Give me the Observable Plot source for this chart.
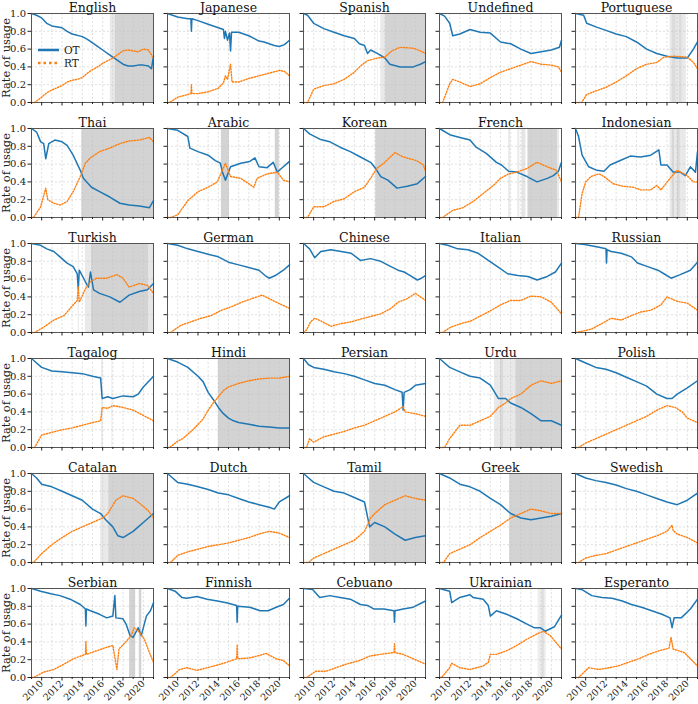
<!DOCTYPE html>
<html><head><meta charset="utf-8">
<script src="https://cdn.jsdelivr.net/npm/d3@7"></script>
<script src="https://cdn.jsdelivr.net/npm/@observablehq/plot@0.6"></script>
<style>
body{margin:0;background:#fff;}
#fig{position:relative;width:698px;height:704px;font-family:"DejaVu Serif",serif;overflow:hidden;}
#fig svg.p{position:absolute;}
</style></head><body><div id="fig"></div><script>
const languages = ["English","Japanese","Spanish","Undefined","Portuguese",
  "Thai","Arabic","Korean","French","Indonesian",
  "Turkish","German","Chinese","Italian","Russian",
  "Tagalog","Hindi","Persian","Urdu","Polish",
  "Catalan","Dutch","Tamil","Greek","Swedish",
  "Serbian","Finnish","Cebuano","Ukrainian","Esperanto"];
const yearTicks = [2009,2010,2011,2012,2013,2014,2015,2016,2017,2018,2019,2020,2021];
const labeledYears = [2010,2012,2014,2016,2018,2020];
const rateTicks = [0,0.2,0.4,0.6,0.8,1.0];

// [year, rate] readings
const OT_English = [[2009,1.0],[2009.5,0.98],[2010,0.95],[2010.5,0.89],[2011,0.86],[2012,0.84],[2012.5,0.80],[2013,0.77],[2014,0.74],[2014.5,0.71],[2015,0.67],[2015.5,0.63],[2016,0.59],[2016.5,0.55],[2017,0.51],[2017.5,0.47],[2018,0.43],[2018.5,0.41],[2019,0.41],[2019.5,0.42],[2020,0.42],[2020.5,0.41],[2020.8,0.38],[2021,0.52]];
const RT_English = [[2009,0],[2009.3,0],[2010,0.06],[2010.5,0.11],[2011,0.14],[2012,0.19],[2012.5,0.23],[2013,0.25],[2013.5,0.26],[2014,0.28],[2014.5,0.33],[2015,0.37],[2015.5,0.40],[2016,0.44],[2016.5,0.47],[2017,0.50],[2017.5,0.54],[2018,0.58],[2018.5,0.59],[2019,0.58],[2019.5,0.57],[2020,0.60],[2020.5,0.59],[2021,0.50]];
const OT_Japanese = [[2009,1.0],[2009.5,0.98],[2010,0.96],[2011,0.94],[2011.3,0.94],[2011.35,0.80],[2011.4,0.94],[2012,0.92],[2013,0.88],[2014,0.84],[2014.5,0.82],[2014.6,0.72],[2014.7,0.80],[2014.9,0.70],[2015.1,0.78],[2015.2,0.58],[2015.3,0.79],[2016,0.79],[2017,0.75],[2017.5,0.72],[2018,0.69],[2018.5,0.68],[2019,0.66],[2019.5,0.64],[2020,0.63],[2020.5,0.65],[2021,0.70]];
const RT_Japanese = [[2009,0],[2009.2,0],[2010,0.06],[2011,0.09],[2011.3,0.10],[2011.35,0.20],[2011.4,0.10],[2012,0.10],[2013,0.12],[2014,0.16],[2014.5,0.22],[2014.7,0.30],[2014.9,0.26],[2015.2,0.43],[2015.35,0.23],[2016,0.23],[2017,0.27],[2018,0.30],[2019,0.33],[2020,0.36],[2020.5,0.35],[2021,0.30]];
const OT_Spanish = [[2009,1.0],[2009.4,0.98],[2010,0.89],[2011,0.83],[2012,0.79],[2013,0.75],[2014,0.72],[2014.5,0.66],[2015,0.64],[2015.3,0.55],[2015.6,0.59],[2016.3,0.55],[2017,0.50],[2017.5,0.43],[2018.5,0.40],[2019.8,0.40],[2020.5,0.43],[2021,0.46]];
const RT_Spanish = [[2009,0],[2009.4,0],[2010,0.15],[2011,0.19],[2012,0.21],[2013,0.26],[2014,0.34],[2014.6,0.41],[2015.3,0.47],[2016.3,0.50],[2017,0.51],[2017.7,0.58],[2018.5,0.62],[2019.8,0.61],[2020.5,0.58],[2021,0.55]];
const OT_Undefined = [[2009,1.0],[2009.5,0.97],[2010,0.89],[2010.3,0.75],[2011,0.77],[2012,0.82],[2013,0.79],[2014,0.78],[2015,0.68],[2016,0.66],[2017,0.60],[2018,0.55],[2019,0.57],[2020,0.59],[2020.8,0.62],[2021,0.70]];
const RT_Undefined = [[2009,0],[2009.3,0],[2010,0.21],[2010.3,0.26],[2011,0.23],[2012,0.18],[2013,0.21],[2014,0.28],[2015,0.34],[2016,0.38],[2017,0.42],[2018,0.46],[2019,0.43],[2020,0.42],[2020.7,0.40],[2021,0.34]];
const OT_Portuguese = [[2009,1.0],[2009.8,0.98],[2010.1,0.89],[2011,0.85],[2012,0.81],[2013,0.77],[2014,0.74],[2015,0.68],[2016,0.60],[2017,0.55],[2018,0.52],[2019,0.50],[2020,0.50],[2020.6,0.60],[2021,0.68]];
const RT_Portuguese = [[2009,0],[2009.6,0],[2010.1,0.09],[2011,0.13],[2012,0.17],[2013,0.23],[2014,0.30],[2015,0.38],[2016,0.43],[2017,0.45],[2017.7,0.51],[2018.7,0.52],[2020,0.51],[2020.6,0.45],[2021,0.38]];
const OT_Thai = [[2009,1.0],[2009.5,0.96],[2009.9,0.85],[2010.2,0.83],[2010.4,0.66],[2010.7,0.83],[2011.3,0.87],[2012,0.85],[2012.5,0.81],[2013.1,0.70],[2013.8,0.53],[2014.1,0.44],[2014.9,0.34],[2015.7,0.29],[2016.7,0.23],[2017.7,0.16],[2018.6,0.14],[2019.6,0.13],[2020.6,0.11],[2021,0.19]];
const RT_Thai = [[2009,0],[2009.2,0],[2009.9,0.12],[2010.4,0.33],[2010.6,0.20],[2011.2,0.16],[2011.8,0.14],[2012.5,0.18],[2013.1,0.29],[2013.8,0.46],[2014.3,0.61],[2014.8,0.67],[2015.7,0.74],[2016.7,0.78],[2017.7,0.83],[2018.6,0.86],[2019.6,0.87],[2020.6,0.90],[2021,0.85]];
const OT_Arabic = [[2009,1.0],[2010,0.98],[2011,0.91],[2011.2,0.78],[2012,0.74],[2013,0.70],[2013.7,0.64],[2014.2,0.61],[2014.4,0.51],[2014.7,0.42],[2015.2,0.57],[2016.2,0.61],[2017.1,0.63],[2017.6,0.67],[2018,0.57],[2018.8,0.56],[2019.4,0.62],[2019.8,0.51],[2020.2,0.55],[2021,0.63]];
const RT_Arabic = [[2009,0],[2009.3,0],[2010,0.03],[2011,0.19],[2012,0.29],[2013,0.34],[2013.9,0.40],[2014.4,0.53],[2014.7,0.61],[2015.2,0.46],[2016.2,0.44],[2017.5,0.34],[2017.8,0.44],[2018.8,0.49],[2019.8,0.51],[2020.4,0.42],[2021,0.40]];
const OT_Korean = [[2009,1.0],[2009.6,0.94],[2010.6,0.88],[2011.6,0.85],[2012.6,0.79],[2013.6,0.74],[2014.6,0.68],[2015.6,0.62],[2016.1,0.55],[2016.6,0.46],[2017.3,0.42],[2018.2,0.33],[2019.2,0.35],[2020.2,0.38],[2021,0.46]];
const RT_Korean = [[2009,0],[2009.4,0],[2010,0.12],[2011,0.12],[2012,0.18],[2013,0.21],[2014,0.29],[2015,0.34],[2015.7,0.46],[2016.2,0.55],[2016.9,0.61],[2018,0.73],[2018.8,0.68],[2020.1,0.64],[2020.8,0.59],[2021,0.52]];
const OT_French = [[2009,1.0],[2010,0.93],[2011,0.90],[2012,0.87],[2012.6,0.79],[2013.6,0.72],[2014.6,0.62],[2015.1,0.59],[2015.8,0.52],[2016.6,0.51],[2017.6,0.46],[2018.6,0.40],[2019.6,0.44],[2020.2,0.47],[2020.7,0.52],[2021,0.62]];
const RT_French = [[2009,0],[2009.3,0],[2010.3,0.08],[2011.3,0.11],[2012.3,0.18],[2013.3,0.27],[2014.3,0.36],[2015,0.44],[2015.8,0.49],[2016.6,0.51],[2017.6,0.55],[2018.6,0.62],[2019.6,0.57],[2020.5,0.53],[2021,0.40]];
const OT_Indonesian = [[2009,1.0],[2009.3,0.91],[2009.65,0.70],[2010.3,0.57],[2011.1,0.53],[2011.8,0.52],[2012.4,0.59],[2013.4,0.64],[2014.4,0.69],[2015.4,0.68],[2016.4,0.70],[2017.2,0.76],[2017.4,0.59],[2018,0.59],[2018.6,0.51],[2019.3,0.51],[2019.8,0.47],[2020.3,0.57],[2020.8,0.51],[2021,0.74]];
const RT_Indonesian = [[2009,0],[2009.3,0],[2009.65,0.27],[2010,0.40],[2010.5,0.46],[2011.3,0.49],[2011.8,0.46],[2012.7,0.38],[2013.7,0.35],[2014.7,0.34],[2015.4,0.31],[2016.4,0.31],[2017,0.36],[2017.4,0.31],[2018.3,0.44],[2019,0.53],[2020,0.47],[2020.6,0.40],[2021,0.40]];
const OT_Turkish = [[2009,1.0],[2009.9,0.98],[2010.5,0.94],[2011.2,0.91],[2011.8,0.85],[2012.5,0.78],[2013.1,0.74],[2013.5,0.66],[2013.6,0.49],[2013.7,0.70],[2014.3,0.57],[2014.6,0.51],[2014.8,0.68],[2015.1,0.48],[2015.7,0.44],[2016.7,0.40],[2017.7,0.34],[2018.6,0.42],[2019.6,0.46],[2020.4,0.48],[2021,0.55]];
const RT_Turkish = [[2009,0],[2009.3,0],[2010.2,0.06],[2011.2,0.14],[2012.2,0.19],[2013.1,0.31],[2013.5,0.36],[2013.6,0.51],[2013.7,0.34],[2014.3,0.49],[2014.8,0.57],[2015.4,0.61],[2016.4,0.61],[2017.4,0.65],[2018,0.61],[2018.6,0.51],[2019.6,0.55],[2020.4,0.53],[2021,0.44]];
const OT_German = [[2009,1.0],[2010,0.98],[2011,0.94],[2012,0.91],[2013,0.88],[2014,0.85],[2015,0.79],[2016,0.76],[2017,0.73],[2018,0.70],[2018.6,0.64],[2019,0.61],[2019.6,0.64],[2020.4,0.70],[2021,0.76]];
const RT_German = [[2009,0],[2009.3,0],[2010.3,0.08],[2011.3,0.12],[2012.3,0.16],[2013.3,0.19],[2014.3,0.25],[2015.3,0.29],[2016.3,0.34],[2017.3,0.38],[2018.3,0.42],[2019,0.38],[2019.9,0.33],[2021,0.27]];
const OT_Chinese = [[2009,1.0],[2009.6,0.94],[2010.1,0.84],[2010.7,0.91],[2011.7,0.93],[2012.7,0.91],[2013.7,0.89],[2014.6,0.81],[2015.6,0.83],[2016.6,0.80],[2017.6,0.74],[2018.3,0.70],[2018.9,0.68],[2019.5,0.64],[2020.2,0.59],[2020.6,0.61],[2021,0.64]];
const RT_Chinese = [[2009,0],[2009.3,0.03],[2009.7,0.12],[2010.1,0.16],[2010.7,0.13],[2011.7,0.07],[2012.7,0.10],[2013.7,0.12],[2014.6,0.15],[2015.6,0.18],[2016.6,0.21],[2017.6,0.27],[2018.3,0.34],[2019.2,0.38],[2020,0.44],[2020.5,0.40],[2021,0.36]];
const OT_Italian = [[2009,1.0],[2009.8,0.98],[2010.8,0.94],[2011.8,0.93],[2012.8,0.89],[2013.8,0.81],[2014.7,0.74],[2015.7,0.66],[2016.7,0.64],[2017.7,0.63],[2018.6,0.59],[2019.6,0.63],[2020.4,0.68],[2021,0.78]];
const RT_Italian = [[2009,0],[2009.3,0],[2010.1,0.06],[2011.1,0.10],[2012.1,0.13],[2013.1,0.19],[2014.1,0.25],[2015,0.31],[2016,0.36],[2017,0.36],[2018,0.41],[2019,0.40],[2020,0.34],[2021,0.21]];
const OT_Russian = [[2009,1.0],[2009.9,0.99],[2011.2,0.96],[2012,0.94],[2012.05,0.78],[2012.1,0.93],[2012.5,0.91],[2013.5,0.89],[2014.5,0.85],[2015.1,0.78],[2016.1,0.74],[2017.1,0.70],[2017.7,0.66],[2018.4,0.61],[2019.3,0.65],[2020.3,0.70],[2021,0.79]];
const RT_Russian = [[2009,0],[2009.5,0.01],[2010.6,0.04],[2011.9,0.12],[2012.5,0.16],[2013.5,0.14],[2014.5,0.19],[2015.4,0.23],[2016.4,0.25],[2017.4,0.31],[2018,0.40],[2019,0.35],[2020,0.33],[2021,0.25]];
const OT_Tagalog = [[2009,1.0],[2009.5,0.95],[2010,0.90],[2011,0.86],[2012,0.85],[2013,0.84],[2014,0.83],[2015,0.80],[2015.8,0.78],[2015.95,0.55],[2016.5,0.57],[2017,0.55],[2018,0.58],[2019,0.57],[2019.5,0.60],[2020,0.68],[2021,0.80]];
const RT_Tagalog = [[2009,0],[2009.3,0],[2010,0.14],[2011,0.17],[2012,0.20],[2013,0.22],[2014,0.25],[2015,0.28],[2015.8,0.30],[2015.95,0.45],[2016.5,0.44],[2017,0.47],[2018,0.45],[2019,0.42],[2020,0.36],[2021,0.30]];
const OT_Hindi = [[2009,1.0],[2010,0.96],[2011,0.90],[2012,0.80],[2012.5,0.74],[2013,0.62],[2013.5,0.54],[2014,0.45],[2014.5,0.38],[2015,0.33],[2015.5,0.30],[2016,0.28],[2017,0.26],[2018,0.24],[2019,0.23],[2020,0.22],[2021,0.22]];
const RT_Hindi = [[2009,0],[2009.2,0],[2010,0.07],[2010.5,0.10],[2011,0.15],[2011.5,0.20],[2012,0.26],[2012.5,0.32],[2013,0.42],[2013.5,0.50],[2014,0.57],[2014.5,0.64],[2015,0.68],[2016,0.72],[2017,0.75],[2018,0.77],[2019,0.78],[2020,0.78],[2021,0.80]];
const OT_Persian = [[2009,1.0],[2009.5,0.93],[2010,0.90],[2011,0.88],[2012,0.85],[2013,0.83],[2014,0.80],[2015,0.76],[2016,0.72],[2017,0.70],[2018,0.65],[2018.7,0.62],[2018.8,0.42],[2018.9,0.62],[2019.5,0.65],[2020,0.70],[2021,0.72]];
const RT_Persian = [[2009,0],[2009.3,0],[2009.6,0.10],[2010,0.06],[2011,0.12],[2012,0.15],[2013,0.18],[2014,0.22],[2015,0.25],[2016,0.30],[2017,0.35],[2018,0.40],[2018.8,0.46],[2019,0.40],[2020,0.38],[2021,0.35]];
const OT_Urdu = [[2009,1.0],[2009.5,0.95],[2010,0.90],[2011,0.85],[2012,0.80],[2013,0.78],[2014,0.70],[2014.8,0.55],[2015.5,0.55],[2016,0.50],[2017,0.45],[2018,0.38],[2019,0.30],[2020,0.30],[2021,0.25]];
const RT_Urdu = [[2009,0],[2009.5,0],[2010,0.10],[2011,0.25],[2012,0.25],[2013,0.30],[2014,0.35],[2014.8,0.45],[2015.5,0.50],[2016,0.55],[2017,0.60],[2018,0.70],[2019,0.75],[2020,0.72],[2021,0.75]];
const OT_Polish = [[2009,1.0],[2010,0.95],[2011,0.90],[2012,0.88],[2013,0.84],[2014,0.79],[2015,0.74],[2016,0.69],[2017,0.60],[2018,0.55],[2018.5,0.55],[2019,0.60],[2020,0.67],[2021,0.75]];
const RT_Polish = [[2009,0],[2009.3,0],[2010,0.05],[2011,0.10],[2012,0.15],[2013,0.20],[2014,0.25],[2015,0.30],[2016,0.35],[2017,0.42],[2018,0.47],[2018.8,0.45],[2019.5,0.40],[2020,0.33],[2021,0.28]];
const OT_Catalan = [[2009,1.0],[2009.5,0.95],[2010,0.88],[2011,0.85],[2012,0.80],[2013,0.75],[2014,0.70],[2015,0.60],[2015.8,0.55],[2016.3,0.48],[2017,0.40],[2017.5,0.30],[2018,0.28],[2019,0.35],[2019.5,0.40],[2020,0.45],[2021,0.55]];
const RT_Catalan = [[2009,0],[2009.2,0],[2010,0.10],[2011,0.20],[2012,0.28],[2013,0.35],[2014,0.40],[2015,0.45],[2016,0.50],[2016.5,0.55],[2017.3,0.70],[2018,0.75],[2019,0.72],[2019.8,0.65],[2020.5,0.58],[2021,0.50]];
const OT_Dutch = [[2009,1.0],[2009.5,0.95],[2010,0.90],[2011,0.88],[2012,0.85],[2013,0.82],[2014,0.78],[2015,0.76],[2016,0.72],[2017,0.68],[2018,0.65],[2019,0.62],[2019.5,0.60],[2020,0.68],[2021,0.75]];
const RT_Dutch = [[2009,0],[2009.3,0],[2010,0.08],[2011,0.12],[2012,0.15],[2013,0.18],[2014,0.20],[2015,0.22],[2016,0.25],[2017,0.28],[2018,0.32],[2019,0.35],[2020,0.33],[2021,0.28]];
const OT_Tamil = [[2009,1.0],[2009.5,0.95],[2010,0.90],[2011,0.85],[2012,0.80],[2013,0.78],[2014,0.73],[2015,0.68],[2015.5,0.40],[2016,0.45],[2017,0.40],[2018,0.32],[2019,0.25],[2020,0.28],[2021,0.30]];
const RT_Tamil = [[2009,0],[2009.5,0],[2010,0.05],[2011,0.10],[2012,0.15],[2013,0.20],[2014,0.25],[2014.5,0.30],[2015,0.35],[2015.6,0.50],[2016,0.55],[2017,0.65],[2018,0.70],[2019,0.75],[2020,0.72],[2021,0.70]];
const OT_Greek = [[2009,1.0],[2010,0.95],[2011,0.88],[2012,0.85],[2013,0.80],[2014,0.72],[2015,0.65],[2016,0.55],[2017,0.50],[2018,0.48],[2019,0.50],[2020,0.52],[2021,0.55]];
const RT_Greek = [[2009,0],[2009.4,0],[2010,0.10],[2011,0.15],[2012,0.20],[2013,0.28],[2014,0.35],[2015,0.42],[2016,0.50],[2017,0.55],[2018,0.60],[2019,0.58],[2020,0.55],[2021,0.55]];
const OT_Swedish = [[2009,1.0],[2010,0.95],[2011,0.92],[2012,0.90],[2013,0.87],[2014,0.83],[2015,0.80],[2016,0.76],[2017,0.72],[2018,0.68],[2019,0.65],[2020,0.70],[2021,0.78]];
const RT_Swedish = [[2009,0],[2009.3,0],[2010,0.05],[2011,0.08],[2012,0.10],[2013,0.14],[2014,0.18],[2015,0.22],[2016,0.26],[2017,0.30],[2018,0.35],[2018.5,0.42],[2018.6,0.36],[2019,0.32],[2020,0.28],[2021,0.22]];
const OT_Serbian = [[2009,1.0],[2009.9,0.97],[2010.9,0.94],[2011.8,0.92],[2012.8,0.88],[2013.8,0.82],[2014.3,0.77],[2014.35,0.58],[2014.4,0.77],[2014.8,0.75],[2015.7,0.71],[2016.4,0.67],[2017,0.69],[2017.2,0.92],[2017.3,0.67],[2018,0.66],[2018.3,0.60],[2018.7,0.47],[2019,0.45],[2019.5,0.56],[2019.8,0.47],[2020.3,0.69],[2020.7,0.75],[2021,0.84]];
const RT_Serbian = [[2009,0],[2009.2,0],[2010.2,0.06],[2011.2,0.09],[2012.2,0.15],[2013.1,0.21],[2014.3,0.26],[2014.35,0.41],[2014.4,0.26],[2015.4,0.30],[2016.4,0.34],[2017,0.36],[2017.4,0.09],[2017.6,0.32],[2018.2,0.39],[2018.8,0.47],[2019.1,0.56],[2019.6,0.51],[2020.1,0.43],[2020.6,0.28],[2021,0.17]];
const OT_Finnish = [[2009,1.0],[2009.75,0.97],[2010.4,0.90],[2010.9,0.89],[2011.9,0.91],[2012.9,0.88],[2013.9,0.86],[2014.8,0.84],[2015.8,0.81],[2015.85,0.62],[2015.9,0.80],[2017.1,0.79],[2018.1,0.75],[2018.9,0.75],[2019.7,0.79],[2020.4,0.82],[2021,0.89]];
const RT_Finnish = [[2009,0],[2009.3,0],[2010.2,0.09],[2010.9,0.11],[2011.9,0.08],[2012.9,0.11],[2013.9,0.14],[2014.8,0.17],[2015.8,0.21],[2015.85,0.37],[2015.9,0.21],[2017.1,0.22],[2018.1,0.25],[2018.7,0.27],[2019.7,0.21],[2020.4,0.19],[2021,0.13]];
const OT_Cebuano = [[2009,1.0],[2009.9,0.99],[2010.6,0.90],[2011.6,0.92],[2012.6,0.90],[2013.6,0.88],[2014.6,0.82],[2015.3,0.81],[2015.9,0.77],[2016.9,0.77],[2017.9,0.75],[2017.95,0.62],[2018,0.75],[2018.8,0.77],[2019.8,0.79],[2021,0.86]];
const RT_Cebuano = [[2009,0],[2009.3,0],[2010.2,0.07],[2011.2,0.07],[2012.2,0.11],[2013.2,0.15],[2014.5,0.19],[2015.5,0.24],[2016.5,0.26],[2017.9,0.28],[2017.95,0.38],[2018,0.28],[2018.8,0.26],[2019.8,0.21],[2021,0.15]];
const OT_Ukrainian = [[2009,1.0],[2010,0.97],[2010.2,0.84],[2011,0.90],[2012,0.93],[2012.3,0.90],[2013.3,0.88],[2013.8,0.81],[2014,0.69],[2014.6,0.75],[2015.6,0.71],[2016.6,0.66],[2017.6,0.60],[2018.3,0.56],[2018.9,0.56],[2019.4,0.52],[2020.3,0.57],[2021,0.70]];
const RT_Ukrainian = [[2009,0],[2009.2,0],[2010,0.11],[2010.2,0.16],[2011,0.11],[2012,0.09],[2013.3,0.13],[2013.8,0.17],[2014,0.26],[2014.6,0.26],[2015.6,0.30],[2016.6,0.36],[2017.6,0.43],[2018.6,0.49],[2019.2,0.52],[2019.9,0.47],[2021,0.32]];
const OT_Esperanto = [[2009,1.0],[2009.6,0.99],[2010.6,0.92],[2011.6,0.90],[2012.6,0.89],[2013.6,0.86],[2014.5,0.82],[2015.5,0.79],[2016.5,0.75],[2017.5,0.71],[2018.3,0.67],[2018.5,0.56],[2018.7,0.67],[2019.4,0.67],[2020.3,0.77],[2021,0.88]];
const RT_Esperanto = [[2009,0],[2009.3,0],[2010.3,0.11],[2011.3,0.09],[2012.3,0.11],[2013.2,0.13],[2014.2,0.17],[2015.2,0.21],[2016.2,0.26],[2017.2,0.30],[2018.2,0.33],[2018.4,0.45],[2018.6,0.32],[2019.7,0.28],[2021,0.13]];

// periods where RT exceeds OT: [start, end, share of weeks]
const RTwins_English = [[2016.75,2017.25,0.5],[2017.25,2021,1]];
const RTwins_Spanish = [[2016.3,2016.35,0.5],[2016.6,2017.07,0.5],[2017.07,2021,1]];
const RTwins_Portuguese = [[2018.3,2018.5,0.5],[2018.5,2018.9,0.8],[2018.9,2019.2,0.5],[2019.2,2019.5,0.8],[2019.5,2019.9,0.5]];
const RTwins_Thai = [[2013.95,2021,1]];
const RTwins_Arabic = [[2014.3,2015.1,1],[2019.6,2020.0,1]];
const RTwins_Korean = [[2016.1,2021,1]];
const RTwins_French = [[2015.8,2016.0,0.5],[2016.7,2016.9,0.5],[2017.1,2017.5,0.6],[2017.7,2020.6,1],[2020.6,2020.8,0.5]];
const RTwins_Indonesian = [[2018.3,2018.5,0.5],[2018.5,2018.75,0.9],[2018.75,2019.0,0.5],[2019.0,2019.3,0.9],[2019.3,2019.9,0.5]];
const RTwins_Turkish = [[2013.6,2013.7,0.5],[2014.3,2014.9,0.5],[2014.9,2020.5,1],[2020.5,2021,0.6]];
const RTwins_Tagalog = [[2015.9,2016.05,0.5],[2016.9,2017.0,0.4]];
const RTwins_Hindi = [[2014.0,2021,1]];
const RTwins_Urdu = [[2014.4,2016.5,0.5],[2015.0,2015.3,0.5],[2016.5,2021,1]];
const RTwins_Catalan = [[2015.8,2016.6,0.5],[2016.6,2021,1]];
const RTwins_Tamil = [[2015.5,2021,1]];
const RTwins_Greek = [[2015.9,2021,1]];
const RTwins_Serbian = [[2018.65,2019.25,1],[2019.6,2019.85,1]];
const RTwins_Ukrainian = [[2018.7,2019.5,0.4],[2019.1,2019.3,0.5]];

const env = {OT_English,RT_English,OT_Japanese,RT_Japanese,OT_Spanish,RT_Spanish,OT_Undefined,RT_Undefined,OT_Portuguese,RT_Portuguese,OT_Thai,RT_Thai,OT_Arabic,RT_Arabic,OT_Korean,RT_Korean,OT_French,RT_French,OT_Indonesian,RT_Indonesian,OT_Turkish,RT_Turkish,OT_German,RT_German,OT_Chinese,RT_Chinese,OT_Italian,RT_Italian,OT_Russian,RT_Russian,OT_Tagalog,RT_Tagalog,OT_Hindi,RT_Hindi,OT_Persian,RT_Persian,OT_Urdu,RT_Urdu,OT_Polish,RT_Polish,OT_Catalan,RT_Catalan,OT_Dutch,RT_Dutch,OT_Tamil,RT_Tamil,OT_Greek,RT_Greek,OT_Swedish,RT_Swedish,OT_Serbian,RT_Serbian,OT_Finnish,RT_Finnish,OT_Cebuano,RT_Cebuano,OT_Ukrainian,RT_Ukrainian,OT_Esperanto,RT_Esperanto,
  RTwins_English,RTwins_Spanish,RTwins_Portuguese,RTwins_Thai,RTwins_Arabic,RTwins_Korean,RTwins_French,RTwins_Indonesian,RTwins_Turkish,RTwins_Tagalog,RTwins_Hindi,RTwins_Urdu,RTwins_Catalan,RTwins_Tamil,RTwins_Greek,RTwins_Serbian,RTwins_Ukrainian};

const fig = document.getElementById("fig");
const panelW = 122, panelH = 89, colPitch = 136, rowPitch = 115, left0 = 31, top0 = 13;
const serif = "'DejaVu Serif', serif";

languages.forEach((lang, i) => {
  const r = Math.floor(i / 5), c = i % 5;
  const ot = env["OT_" + lang], rt = env["RT_" + lang], wins = env["RTwins_" + lang] || [];
  const mL = c === 0 ? 31 : 6, mR = 4, mT = 16, mB = r === 5 ? 30 : 8;
  const svg = Plot.plot({
    width: panelW + mL + mR, height: panelH + mT + mB,
    marginLeft: mL, marginRight: mR, marginTop: mT, marginBottom: mB,
    x: {domain: [2009, 2021], axis: null},
    y: {domain: [0, 1], axis: null},
    style: {fontFamily: serif, fontSize: "9.5px", background: "transparent", color: "#222", overflow: "visible"},
    marks: [
      Plot.gridX(yearTicks, {stroke: "#b8b8b8", strokeOpacity: 0.7, strokeWidth: 0.6, strokeDasharray: "2.2,1.8"}),
      Plot.gridY(rateTicks, {stroke: "#b8b8b8", strokeOpacity: 0.7, strokeWidth: 0.6, strokeDasharray: "2.2,1.8"}),
      Plot.rect(wins, {x1: d => d[0], x2: d => d[1], fill: "#c0c0c0", fillOpacity: d => 0.7 * d[2]}),
      Plot.line(ot, {x: d => d[0], y: d => d[1], stroke: "#1f77b4", strokeWidth: 1.5}),
      Plot.line(rt, {x: d => d[0], y: d => d[1], stroke: "#ff7f0e", strokeWidth: 1.4, strokeDasharray: "1.2,1.6"}),
      Plot.frame({stroke: "#555", strokeWidth: 1}),
      Plot.axisY({ticks: rateTicks, tickSize: 3.5, tickPadding: 2,
        tickFormat: c === 0 ? d3.format(".1f") : () => "", label: null, fontSize: 10}),
      ...(c === 0 ? [Plot.text(["Rate of usage"], {frameAnchor: "left", dx: -25, rotate: -90, textAnchor: "middle", lineAnchor: "middle", text: d => d, fontSize: 11.5, fill: "#222"})] : []),
      Plot.axisX({ticks: labeledYears, tickSize: 3.5, tickPadding: 1,
        tickFormat: r === 5 ? d => String(d) : () => "", tickRotate: -45, label: null}),
      Plot.axisX({ticks: yearTicks.filter(y => y % 2 === 1), tickSize: 2, tickFormat: () => "", label: null}),
      Plot.text([lang], {frameAnchor: "top", lineAnchor: "bottom", dy: -2, text: d => d, fontSize: 12.5, fill: "#111"})
    ]
  });
  svg.classList.add("p");
  svg.style.left = (left0 + c * colPitch - mL) + "px";
  svg.style.top = (top0 + r * rowPitch - mT) + "px";
  fig.appendChild(svg);
});

// legend (inside English panel)
const leg = d3.create("svg").attr("width", 50).attr("height", 30)
  .style("position", "absolute").style("left", "36px").style("top", "44px").style("overflow", "visible");
leg.append("line").attr("x1", 2).attr("x2", 23).attr("y1", 6).attr("y2", 6).attr("stroke", "#1f77b4").attr("stroke-width", 2.5);
leg.append("text").attr("x", 28).attr("y", 10).text("OT").style("font", "10.5px " + serif).attr("fill", "#222");
leg.append("line").attr("x1", 2).attr("x2", 23).attr("y1", 19).attr("y2", 19).attr("stroke", "#ff7f0e").attr("stroke-width", 2.5).attr("stroke-dasharray", "2.5,3");
leg.append("text").attr("x", 28).attr("y", 23).text("RT").style("font", "10.5px " + serif).attr("fill", "#222");
fig.appendChild(leg.node());
</script></body></html>
